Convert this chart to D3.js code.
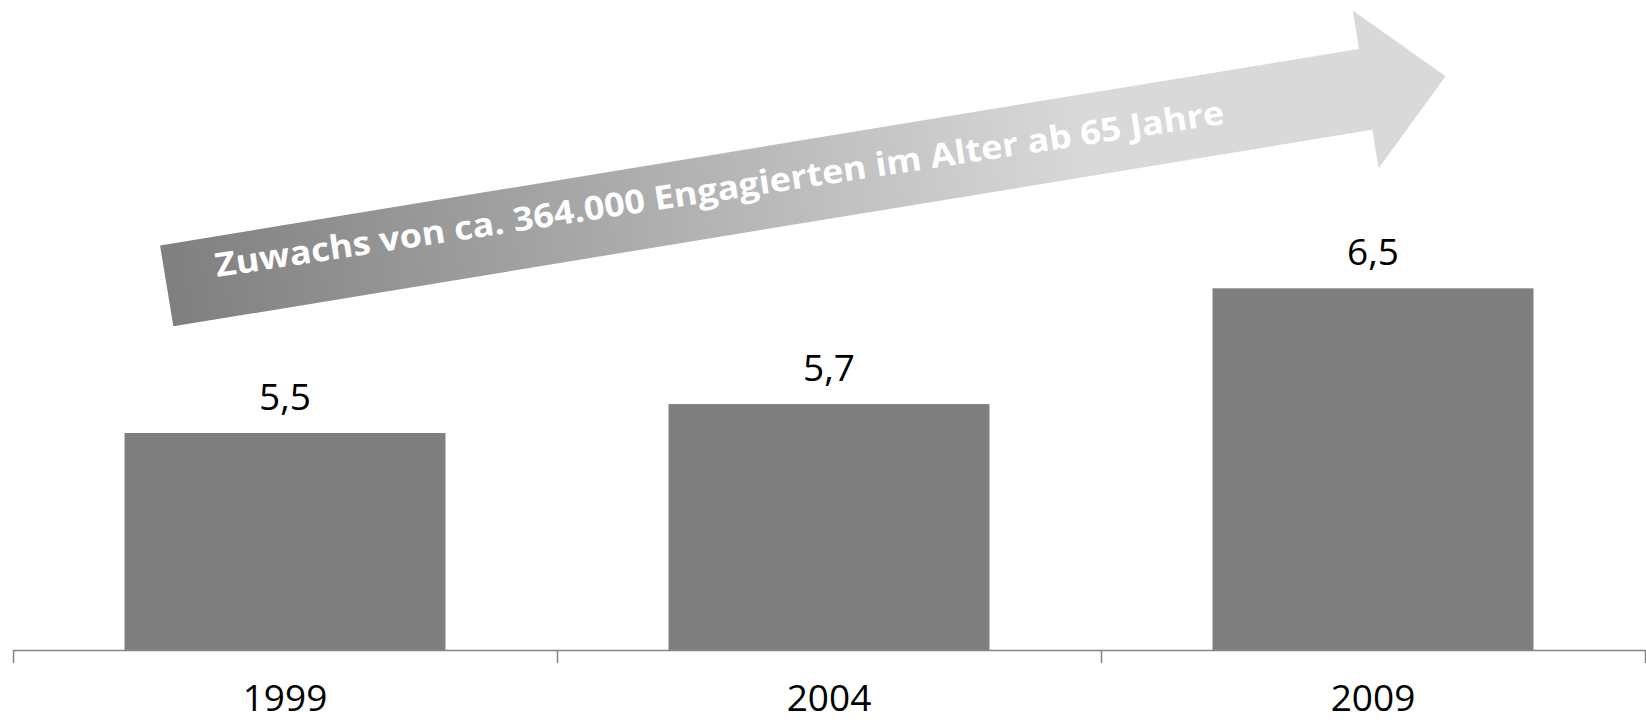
<!DOCTYPE html>
<html>
<head>
<meta charset="utf-8">
<script src="https://cdn.jsdelivr.net/npm/d3@7"></script>
<style>
  html, body { margin: 0; padding: 0; background: #fff; }
  svg { display: block; }
</style>
</head>
<body>
<svg id="chart" width="1646" height="722"></svg>
<script>
// ---- data ----
const categories = ["1999", "2004", "2009"];
const values = [5.5, 5.7, 6.5];
const valueLabels = ["5,5", "5,7", "6,5"];
const yDomain = [4, 7];
const arrowText = "Zuwachs von ca. 364.000 Engagierten im Alter ab 65 Jahre";

// ---- layout ----
const W = 1646, H = 722;
const plot = { left: 13, right: 1645, top: 216, bottom: 650 };
const font = "'Open Sans', 'Noto Sans', sans-serif";

const svg = d3.select("#chart");

const x = d3.scaleBand()
  .domain(categories)
  .range([plot.left, plot.right])
  .paddingInner(0.41)
  .paddingOuter(0.205);

const y = d3.scaleLinear().domain(yDomain).range([plot.bottom, plot.top]);

// category boundary scale for axis ticks
const xEdge = d3.scaleLinear().domain([0, categories.length]).range([plot.left, plot.right]);

// ---- arrow (decoration) ----
const defs = svg.append("defs");
const grad = defs.append("linearGradient").attr("id", "arrowGrad")
  .attr("x1", "0").attr("y1", "0").attr("x2", "1").attr("y2", "0");
grad.append("stop").attr("offset", "0").attr("stop-color", "#7f7f7f");
grad.append("stop").attr("offset", "0.72").attr("stop-color", "#d9d9d9");
grad.append("stop").attr("offset", "1").attr("stop-color", "#d9d9d9");

const arrow = { cx: 166.7, cy: 285.9, angle: -9.31, shaft: 1215, headLen: 81, shaftW: 82, headW: 160 };
const aPts = [
  [0, -arrow.shaftW / 2], [arrow.shaft, -arrow.shaftW / 2], [arrow.shaft, -arrow.headW / 2],
  [arrow.shaft + arrow.headLen, 0],
  [arrow.shaft, arrow.headW / 2], [arrow.shaft, arrow.shaftW / 2], [0, arrow.shaftW / 2]
];
svg.append("g")
  .attr("transform", `translate(${arrow.cx},${arrow.cy}) rotate(${arrow.angle})`)
  .append("path")
  .attr("d", d3.line()(aPts) + "Z")
  .attr("fill", "url(#arrowGrad)");

const txt = svg.append("text")
  .attr("transform", "translate(217,277) rotate(-8.65)")
  .attr("font-family", font)
  .attr("font-weight", "bold")
  .attr("font-size", 33)
  .attr("fill", "#ffffff")
  .text(arrowText);
const natural = txt.node().getComputedTextLength();
const targetLen = 1020;
if (Math.abs(natural - targetLen) > 4) {
  txt.attr("textLength", targetLen).attr("lengthAdjust", "spacingAndGlyphs");
}

// ---- bars ----
svg.append("g").selectAll("rect")
  .data(values)
  .join("rect")
  .attr("x", (d, i) => x(categories[i]))
  .attr("y", d => y(d))
  .attr("width", x.bandwidth())
  .attr("height", d => y(yDomain[0]) - y(d))
  .attr("fill", "#7f7f7f");

// value labels
svg.append("g").selectAll("text")
  .data(values)
  .join("text")
  .attr("x", (d, i) => x(categories[i]) + x.bandwidth() / 2)
  .attr("y", d => y(d) - 23)
  .attr("text-anchor", "middle")
  .attr("font-family", font)
  .attr("font-size", 37)
  .attr("fill", "#000")
  .text((d, i) => valueLabels[i]);

// ---- axis ----
const axis = svg.append("g")
  .attr("transform", `translate(0,${plot.bottom})`)
  .call(d3.axisBottom(xEdge)
    .tickValues(d3.range(categories.length + 1))
    .tickSize(13)
    .tickSizeOuter(0)
    .tickFormat(""));
axis.selectAll("path, line").attr("stroke", "#868686").attr("stroke-width", 1.5);

// category labels
svg.append("g").selectAll("text")
  .data(categories)
  .join("text")
  .attr("x", d => x(d) + x.bandwidth() / 2)
  .attr("y", 711)
  .attr("text-anchor", "middle")
  .attr("font-family", font)
  .attr("font-size", 37)
  .attr("fill", "#000")
  .text(d => d);
</script>
</body>
</html>
